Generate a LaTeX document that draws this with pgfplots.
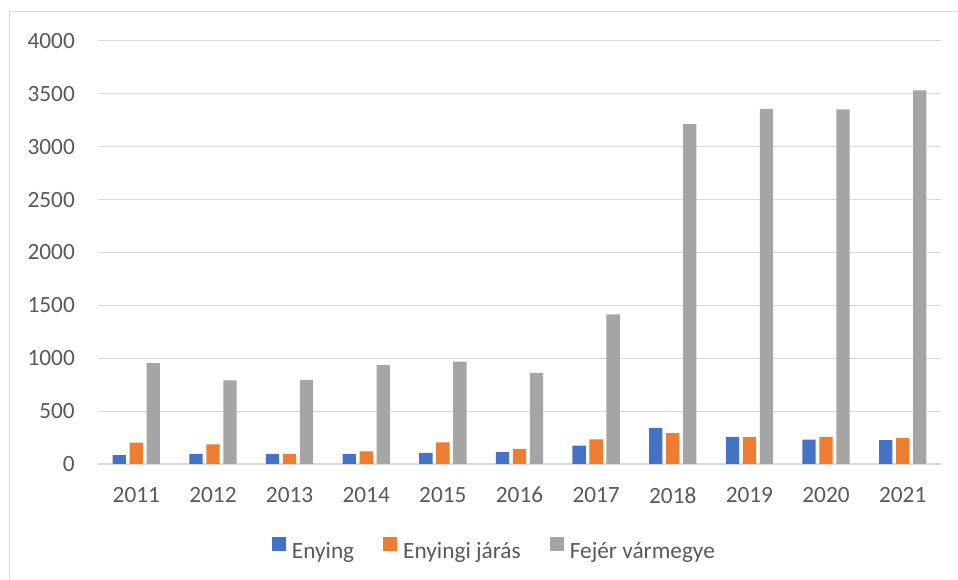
\documentclass[border=0pt]{standalone}
\usepackage{pgfplots}
\pgfplotsset{compat=1.18}
\usepackage{fontspec}
\setmainfont{Carlito}
\definecolor{cblue}{HTML}{4472C4}
\definecolor{corange}{HTML}{ED7D31}
\definecolor{cgray}{HTML}{A5A5A5}
\definecolor{gridc}{HTML}{D9D9D9}
\definecolor{txt}{HTML}{595959}
\pgfplotstableread{
x year enying jaras fejer
0 2011 85 201 955
1 2012 96 186 790
2 2013 95 95 795
3 2014 95 119 935
4 2015 105 204 968
5 2016 113 143 862
6 2017 174 234 1414
7 2018 342 291 3214
8 2019 256 253 3357
9 2020 231 256 3353
10 2021 225 247 3532
}\datatable
\begin{document}
\begin{tikzpicture}
\useasboundingbox (-98pt,-116pt) rectangle (860pt,464pt);
\draw[gridc, line width=1pt] (-88.5pt,-116pt) -- (-88.5pt,452.5pt) -- (860pt,452.5pt);
\begin{axis}[
  at={(0pt,0pt)}, anchor=south west,
  scale only axis, width=843pt, height=423pt,
  ybar=3.7pt, bar width=13.3pt,
  xmin=-0.5, xmax=10.5, ymin=0, ymax=4000,
  xtick=data,
  xticklabels={2011,2012,2013,2014,2015,2016,2017,2018,2019,2020,2021},
  ytick={0,500,...,4000},
  ymajorgrids, grid style={gridc, line width=1pt},
  axis line style={draw=none},
  major tick length=0pt,
  /pgf/number format/assume math mode=true,
  /pgf/number format/set thousands separator={},
  ticklabel style={font=\fontsize{23.3}{28}\selectfont, text=txt, inner sep=0pt},
  yticklabel style={anchor=east, xshift=-23pt},
  xticklabel style={anchor=north, yshift=-23pt},
  legend style={at={(0.469,-0.199)}, anchor=center, draw=none, legend columns=3,
    font=\fontsize{23.3}{28}\selectfont, text=txt,
    nodes={inner sep=0pt},
    /tikz/every odd column/.append style={column sep=6pt},
    /tikz/every even column/.append style={column sep=29pt}},
  legend image code/.code={\fill[#1] (0pt,0pt) rectangle (14pt,14pt);},
  clip=false,
]
\draw[gridc, line width=1.3pt] (axis cs:-0.5,0) -- (axis cs:10.5,0);
\addplot[fill=cblue, draw=none] table[x=x, y=enying] {\datatable};
\addplot[fill=corange, draw=none] table[x=x, y=jaras] {\datatable};
\addplot[fill=cgray, draw=none] table[x=x, y=fejer] {\datatable};
\legend{Enying, Enyingi járás, Fejér vármegye}
\end{axis}
\end{tikzpicture}
\end{document}
